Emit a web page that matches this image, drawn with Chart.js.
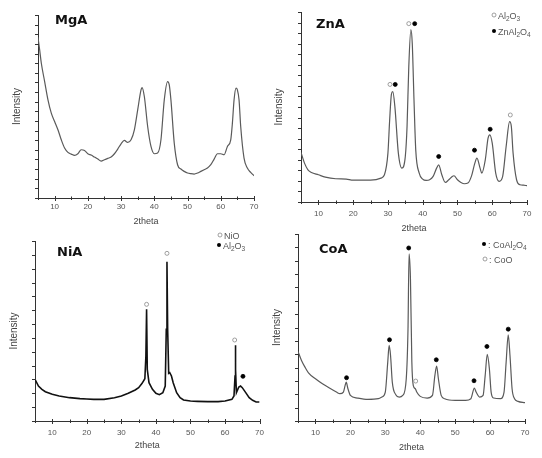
<!DOCTYPE html>
<html><head><meta charset="utf-8">
<script src="https://cdn.jsdelivr.net/npm/chart.js@4/dist/chart.umd.min.js"></script>
<style>
html,body{margin:0;padding:0;background:#fff;}
#wrap{position:relative;width:542px;height:458px;overflow:hidden;background:#fff;}
canvas{position:absolute;}
</style></head><body>
<div id="wrap">
<canvas id="c1" style="left:0px;top:0px" width="271" height="229"></canvas>
<canvas id="c2" style="left:271px;top:0px" width="271" height="236"></canvas>
<canvas id="c3" style="left:0px;top:229px" width="271" height="229"></canvas>
<canvas id="c4" style="left:271px;top:229px" width="271" height="229"></canvas>
</div>
<script>
// ---- data (2theta, intensity in arbitrary units) ----
const tickLabels = [10, 20, 30, 40, 50, 60, 70];

const mgaX = [5,5.5,6,7,8,9,10,11,12,13,14,15,16,17,18,19,20,21,22,23,24,25,26,27,28,29,30,31,32,33,34,35,36,36.3,37,38,39,40,41,42,43,44,44.5,45,46,47,48,49,50,51,52,53,54,55,56,57,58,59,60,61,62,63,63.5,64,64.6,65,65.5,66,67,68,69,70];
const mgaY = [483,445,405,350,295,255,230,205,175,150,137,132,128,133,145,143,133,129,123,117,111,115,119,123,133,147,163,173,167,175,205,265,325,332,305,215,155,133,135,175,295,350,340,295,165,100,87,80,75,73,72,75,80,85,90,100,117,133,133,130,155,175,225,295,330,325,295,215,120,90,77,67];

const znaX = [5,6,7,8,10,12,15,18,20,25,28,29,30,30.5,31,31.4,32,33,34,35,35.5,36,36.6,37,37.5,38,39,40,41,42,43,44,44.6,45.5,46.5,47.5,48.5,49,50,51,52,53,54,55,55.6,56.5,57,58,58.8,59.3,60,61,62,63,64,65,65.5,66,67,68,69,70];
const znaY = [149,117,97,89,82,75,70,69,66,66,72,82,147,247,324,332,287,147,102,137,227,407,519,477,307,157,87,69,65,67,77,102,112,82,59,67,77,79,67,59,55,57,77,117,132,102,87,127,192,202,177,87,62,77,167,242,227,147,67,52,51,49];
const znaOpenX = [30.6, 36.0, 65.2];
const znaOpenY = [354, 537, 262];
const znaFillX = [32.1, 37.7, 44.6, 54.9, 59.4];
const znaFillY = [354, 537, 137, 156, 219];

const niaX = [5,6,7,8,10,12,15,18,20,22,25,28,30,32,34,35,36,36.8,37.1,37.3,37.5,38,39,40,41,42,42.7,43,43.2,43.4,43.7,44,44.5,45,46,47,48,50,52,55,58,60,62,62.6,62.9,63,63.1,63.3,63.7,64,64.5,65,66,67,68,69,70];
const niaY = [125,105,95,88,80,75,70,67,66,65,65,70,75,83,93,100,113,127,195,335,155,115,95,83,79,85,105,275,478,275,143,145,135,115,85,70,63,60,59,58,58,60,65,75,135,227,155,85,95,102,105,100,85,70,62,57,57];
const niaOpenX = [37.3, 43.2, 62.8];
const niaOpenY = [350, 503, 243];
const niaFillX = [65.2];
const niaFillY = [134];

const coaX = [5,6,7,8,10,12,14,16,17,18,18.5,18.8,19.3,20,22,25,28,29,30,30.7,31.1,31.5,32,33,34,35,36,36.5,36.8,37.2,37.6,38,38.6,39,40,42,43.5,44.2,44.7,45.2,46,47,50,53,54.5,55.5,56,57,58,58.6,59.2,59.8,60.3,61,63,64,64.6,65.2,65.7,66.3,67,68,70];
const coaY = [209,182,162,145,127,112,99,87,82,87,107,117,97,77,69,65,67,72,87,177,227,197,117,79,72,77,127,277,502,427,177,107,97,87,74,69,77,137,165,127,77,67,62,62,67,99,87,72,77,137,200,157,87,69,67,87,177,259,197,97,67,59,55];
const coaFillX = [18.9, 31.2, 36.7, 44.6, 55.4, 59.1, 65.2];
const coaFillY = [130, 244, 520, 184, 121, 224, 276];
const coaOpenX = [38.7];
const coaOpenY = [120];

const pts = (xs, ys) => xs.map((x, i) => ({x: x, y: ys[i]}));

// ---- decoration plugin: axis ticks, panel title, legend ----
const decor = {
  id: 'decor',
  afterDraw(chart, args, o) {
    const ctx = chart.ctx, xs = chart.scales.x, ys = chart.scales.y, a = chart.chartArea;
    ctx.save();
    ctx.strokeStyle = '#333'; ctx.lineWidth = 1;
    for (let v = 5; v <= 70; v += 5) {
      const px = Math.round(xs.getPixelForValue(v)) + 0.5;
      const major = v % 10 === 0;
      ctx.beginPath();
      ctx.moveTo(px, a.bottom - (major ? 2 : 1.5));
      ctx.lineTo(px, a.bottom + (major ? 3 : 2));
      ctx.stroke();
    }
    for (let k = 0; k * o.yStep <= ys.max + 0.01; k++) {
      const py = Math.round(ys.getPixelForValue(k * o.yStep)) + 0.5;
      ctx.beginPath(); ctx.moveTo(a.left - 3, py); ctx.lineTo(a.left + 1, py); ctx.stroke();
    }
    ctx.fillStyle = '#111';
    ctx.font = 'bold 13px "DejaVu Sans"';
    ctx.textBaseline = 'alphabetic'; ctx.textAlign = 'left';
    ctx.fillText(o.title, o.tx, o.ty);
    (o.legend || []).forEach(it => {
      ctx.beginPath();
      ctx.arc(it.x, it.y, 2, 0, Math.PI * 2);
      if (it.filled) { ctx.fillStyle = '#000'; ctx.fill(); }
      else { ctx.fillStyle = '#fff'; ctx.fill(); ctx.strokeStyle = '#888'; ctx.lineWidth = 0.8; ctx.stroke(); }
      let x = it.x + 4;
      const base = it.y + 3.5;
      ctx.fillStyle = '#555';
      it.parts.forEach(p => {
        if (p[1]) { ctx.font = '6.5px "Liberation Sans"'; ctx.fillText(p[0], x, base + 2.5); x += ctx.measureText(p[0]).width; }
        else { ctx.font = '9px "Liberation Sans"'; ctx.fillText(p[0], x, base); x += ctx.measureText(p[0]).width; }
      });
    });
    ctx.restore();
  }
};

function makeChart(id, cfg) {
  const datasets = [{
    type: 'line', data: pts(cfg.x, cfg.y), borderColor: cfg.color, borderWidth: cfg.lw,
    pointRadius: 0, fill: false, tension: cfg.smooth ? 0.4 : 0,
    cubicInterpolationMode: cfg.smooth ? 'monotone' : 'default', order: 2
  }];
  (cfg.markers || []).forEach(m => {
    datasets.push({
      type: 'scatter', data: pts(m.x, m.y), showLine: false, pointStyle: 'circle',
      pointRadius: 2, borderWidth: 0.8,
      backgroundColor: m.filled ? '#000' : '#fff', borderColor: m.filled ? '#000' : '#888', order: 1
    });
  });
  return new Chart(document.getElementById(id), {
    type: 'line',
    data: { datasets: datasets },
    plugins: [decor],
    options: {
      responsive: false, animation: false, events: [],
      layout: { padding: { top: cfg.padT, right: cfg.padR, left: 0, bottom: 0 } },
      plugins: { legend: { display: false }, tooltip: { enabled: false }, decor: cfg.decor },
      scales: {
        x: {
          type: 'linear', min: 5, max: 70,
          afterFit: s => { s.height = cfg.xH; },
          afterBuildTicks: s => { s.ticks = tickLabels.map(v => ({ value: v })); },
          grid: { display: false, drawTicks: false },
          border: { display: true, color: '#333', width: 1 },
          ticks: { color: '#555', font: { family: 'Liberation Sans', size: 8 }, padding: cfg.tickPad, maxRotation: 0, autoSkip: false },
          title: { display: true, text: '2theta', color: '#444', font: { family: 'Liberation Sans', size: 9, lineHeight: 1.2 }, padding: { top: 0, bottom: cfg.xtPad } }
        },
        y: {
          type: 'linear', min: 0, max: cfg.ymax,
          afterFit: s => { s.width = cfg.yW; },
          grid: { display: false, drawTicks: false },
          border: { display: true, color: '#333', width: 1 },
          ticks: { display: false },
          title: { display: true, text: 'Intensity', color: '#444', font: { family: 'Liberation Sans', size: 10, lineHeight: 1.2 }, padding: { top: cfg.ytPad, bottom: 0 } }
        }
      }
    }
  });
}

makeChart('c1', {
  x: mgaX, y: mgaY, color: '#5a5a5a', lw: 1.2, smooth: true, ymax: 550,
  padT: 15, padR: 17, xH: 31, yW: 38, tickPad: 4, xtPad: 2, ytPad: 11,
  decor: { yStep: 550 / 19, title: 'MgA', tx: 55, ty: 24 }
});
makeChart('c2', {
  x: znaX, y: znaY, color: '#5a5a5a', lw: 1.2, smooth: true, ymax: 572,
  padT: 12, padR: 15, xH: 34, yW: 30, tickPad: 7, xtPad: 2, ytPad: 2,
  markers: [{ x: znaOpenX, y: znaOpenY, filled: false }, { x: znaFillX, y: znaFillY, filled: true }],
  decor: { yStep: 572 / 18, title: 'ZnA', tx: 45, ty: 28,
    legend: [
      { x: 223, y: 15, filled: false, parts: [['Al', 0], ['2', 1], ['O', 0], ['3', 1]] },
      { x: 223, y: 31, filled: true, parts: [['ZnAl', 0], ['2', 1], ['O', 0], ['4', 1]] }
    ] }
});
makeChart('c3', {
  x: niaX, y: niaY, color: '#111', lw: 1.6, smooth: false, ymax: 540,
  padT: 12, padR: 9, xH: 37, yW: 35, tickPad: 7, xtPad: 7, ytPad: 8,
  markers: [{ x: niaOpenX, y: niaOpenY, filled: false }, { x: niaFillX, y: niaFillY, filled: true }],
  decor: { yStep: 540 / 13, title: 'NiA', tx: 57, ty: 27,
    legend: [
      { x: 220, y: 6, filled: false, parts: [['NiO', 0]] },
      { x: 219, y: 16, filled: true, parts: [['Al', 0], ['2', 1], ['O', 0], ['3', 1]] }
    ] }
});
makeChart('c4', {
  x: coaX, y: coaY, color: '#5a5a5a', lw: 1.2, smooth: true, ymax: 562,
  padT: 5, padR: 17, xH: 37, yW: 27, tickPad: 7, xtPad: 5, ytPad: 0,
  markers: [{ x: coaFillX, y: coaFillY, filled: true }, { x: coaOpenX, y: coaOpenY, filled: false }],
  decor: { yStep: 562 / 14, title: 'CoA', tx: 48, ty: 24,
    legend: [
      { x: 213, y: 15, filled: true, parts: [[': CoAl', 0], ['2', 1], ['O', 0], ['4', 1]] },
      { x: 214, y: 30, filled: false, parts: [[': CoO', 0]] }
    ] }
});
</script>
</body></html>
